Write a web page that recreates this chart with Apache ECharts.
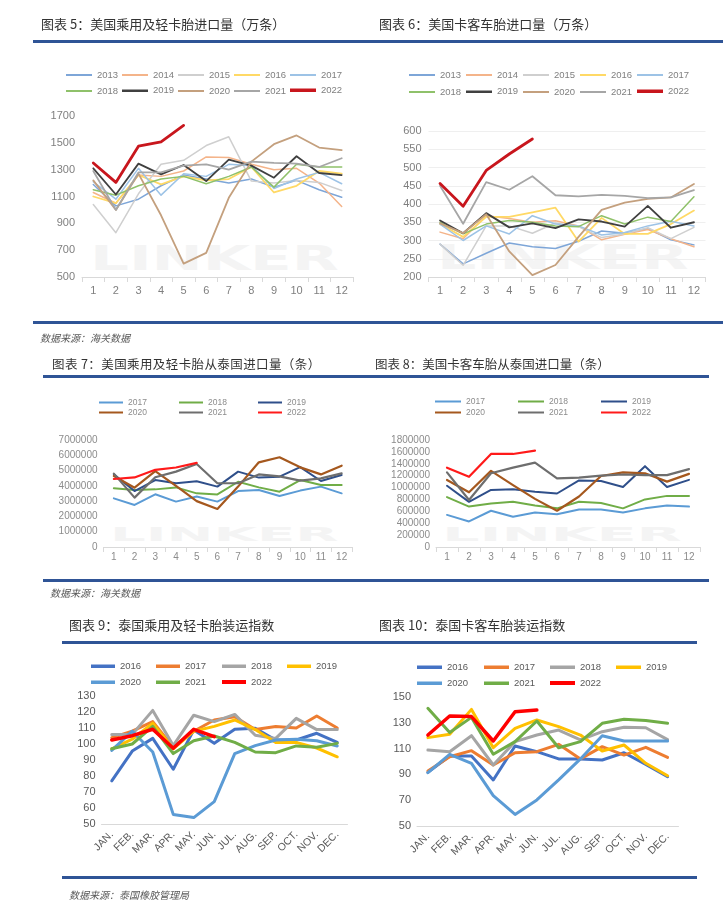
<!DOCTYPE html>
<html><head><meta charset="utf-8">
<script src="https://cdn.jsdelivr.net/npm/echarts@6/dist/echarts.min.js"></script>
<style>
html,body{margin:0;padding:0;background:#fff;}
body{width:723px;height:908px;position:relative;overflow:hidden;font-family:"Noto Sans CJK SC",sans-serif;}
.layer{position:absolute;left:0;top:0;width:723px;height:908px;z-index:2;}
.t{position:absolute;color:#333;font-size:13px;line-height:13px;white-space:nowrap;z-index:3;}
.rule{position:absolute;background:#2f5496;z-index:3;}
.src{position:absolute;color:#595959;font-size:10px;line-height:10px;font-style:italic;white-space:nowrap;z-index:3;}
.wm{position:absolute;color:#f4f4f4;font-weight:bold;font-family:"DejaVu Sans",sans-serif;white-space:nowrap;transform-origin:0 0;z-index:1;}
</style>
</head>
<body>
<div class="t" style="left:41px;top:17px;">图表 5：美国乘用及轻卡胎进口量（万条）</div>
<div class="t" style="left:379px;top:17px;">图表 6：美国卡客车胎进口量（万条）</div>
<div class="rule" style="left:33px;top:40px;width:690px;height:3px;"></div>
<div class="rule" style="left:33px;top:321px;width:690px;height:2.5px;"></div>
<div class="src" style="left:40px;top:333px;">数据来源：海关数据</div>

<div class="t" style="left:52px;top:357px;font-size:12.5px;letter-spacing:0.4px;">图表 7：美国乘用及轻卡胎从泰国进口量（条）</div>
<div class="t" style="left:375px;top:357px;font-size:12.5px;">图表 8：美国卡客车胎从泰国进口量（条）</div>
<div class="rule" style="left:43px;top:375px;width:666px;height:2.5px;"></div>
<div class="rule" style="left:43px;top:579px;width:666px;height:2.5px;"></div>
<div class="src" style="left:50px;top:588px;">数据来源：海关数据</div>

<div class="t" style="left:69px;top:618px;">图表 9：泰国乘用及轻卡胎装运指数</div>
<div class="t" style="left:379px;top:618px;">图表 10：泰国卡客车胎装运指数</div>
<div class="rule" style="left:62px;top:640.5px;width:635px;height:3px;"></div>
<div class="rule" style="left:62px;top:875.5px;width:635px;height:3px;"></div>
<div class="src" style="left:69px;top:890px;">数据来源：泰国橡胶管理局</div>

<div class="wm" style="left:90px;top:242px;font-size:33px;line-height:33px;transform:scale(1.85,1);">LINKER</div>
<div class="wm" style="left:437px;top:241px;font-size:33px;line-height:33px;transform:scale(1.87,1);">LINKER</div>
<div class="wm" style="left:110px;top:525px;font-size:19px;line-height:19px;transform:scale(2.95,1);">LINKER</div>
<div class="wm" style="left:442px;top:525px;font-size:19px;line-height:19px;transform:scale(3.1,1);">LINKER</div>

<div id="c5" class="layer"></div>
<div id="c6" class="layer"></div>
<div id="c7" class="layer"></div>
<div id="c8" class="layer"></div>
<div id="c9" class="layer"></div>
<div id="c10" class="layer"></div>

<script>
// ---------- categories ----------
const monthNums = ['1','2','3','4','5','6','7','8','9','10','11','12'];
const monthAbbr = ['JAN.','FEB.','MAR.','APR.','MAY.','JUN.','JUL.','AUG.','SEP.','OCT.','NOV.','DEC.'];

// ---------- Chart 5: US passenger & light truck tire imports (10k) ----------
const c5Years = ['2013','2014','2015','2016','2017','2018','2019','2020','2021','2022'];
const c5_2013 = [1190,1030,1080,1180,1260,1230,1200,1230,1170,1220,1150,1095];
const c5_2014 = [1130,1050,1260,1250,1290,1395,1390,1340,1300,1310,1200,1025];
const c5_2015 = [1040,830,1120,1340,1370,1480,1545,1215,1200,1220,1205,1145];
const c5_2016 = [1100,1050,1260,1190,1250,1220,1230,1320,1130,1180,1290,1270];
const c5_2017 = [1210,1080,1310,1110,1270,1250,1340,1330,1160,1230,1280,1195];
const c5_2018 = [1150,1110,1180,1230,1250,1195,1250,1320,1170,1340,1320,1320];
const c5_2019 = [1310,1115,1345,1265,1335,1215,1375,1330,1240,1400,1275,1260];
const c5_2020 = [1220,1000,1270,960,600,680,1090,1360,1490,1555,1465,1445];
const c5_2021 = [1290,1000,1280,1280,1330,1340,1300,1360,1350,1345,1320,1385];
const c5_2022 = [1350,1205,1475,1508,1630];

// ---------- Chart 6: US truck & bus tire imports (10k) ----------
const c6Years = ['2013','2014','2015','2016','2017','2018','2019','2020','2021','2022'];
const c6_2013 = [290,236,265,293,283,278,298,326,320,333,302,288];
const c6_2014 = [323,305,368,360,350,354,340,302,317,330,305,283];
const c6_2015 = [290,232,340,340,320,348,338,308,318,335,305,336];
const c6_2016 = [345,310,365,365,377,390,297,362,318,318,345,382];
const c6_2017 = [345,300,340,318,368,345,340,315,322,340,353,340];
const c6_2018 = [350,318,345,355,350,340,338,368,345,364,352,420];
const c6_2019 = [355,320,375,336,347,334,358,352,338,395,335,350];
const c6_2020 = [347,320,372,270,205,233,310,384,404,414,418,455];
const c6_2021 = [450,346,460,439,476,424,421,425,422,416,418,438];
const c6_2022 = [456,394,492,537,578];

// ---------- Chart 7: US PCR/LT imports from Thailand (units) ----------
const c7Years = ['2017','2018','2019','2020','2021','2022'];
const c7_2017 = [3180000,2750000,3450000,2970000,3300000,2970000,3660000,3730000,3340000,3690000,3950000,3510000];
const c7_2018 = [3840000,3730000,3770000,3900000,3510000,3440000,4270000,3900000,3620000,4380000,4050000,4050000];
const c7_2019 = [4750000,3660000,4380000,4170000,4300000,3950000,4930000,4540000,4600000,5230000,4320000,4710000];
const c7_2020 = [4650000,3880000,4970000,4000000,3000000,2490000,3950000,5540000,5870000,5210000,4750000,5320000];
const c7_2021 = [4800000,3230000,4560000,4930000,5430000,4170000,4170000,4750000,4620000,4340000,4490000,4820000];
const c7_2022 = [4450000,4550000,5050000,5200000,5500000];

// ---------- Chart 8: US TBR imports from Thailand (units) ----------
const c8Years = ['2017','2018','2019','2020','2021','2022'];
const c8_2017 = [540000,430000,610000,510000,580000,550000,630000,630000,580000,650000,700000,680000];
const c8_2018 = [840000,680000,730000,760000,700000,650000,760000,740000,650000,800000,860000,860000];
const c8_2019 = [1030000,760000,960000,970000,930000,900000,1120000,1110000,1010000,1360000,1010000,1130000];
const c8_2020 = [1127000,920000,1280000,1040000,810000,610000,850000,1195000,1256000,1240000,1100000,1230000];
const c8_2021 = [1256000,790000,1240000,1335000,1420000,1155000,1166000,1200000,1220000,1210000,1210000,1310000];
const c8_2022 = [1335000,1180000,1565000,1565000,1620000];

// ---------- Chart 9: Thailand PCR/LT shipment index ----------
const c9Years = ['2016','2017','2018','2019','2020','2021','2022'];
const c9_2016 = [77,95.6,103.5,84.2,108.8,100.4,109.2,109.8,102.5,102.5,106.7,101];
const c9_2017 = [104,108,114,98,108,115,117,109,111,110,117.5,110];
const c9_2018 = [106,106,121,99,118,114,118.5,105.5,103.5,116,109,109];
const c9_2019 = [97,103,113,97,108,111,115,109,101,101,97.5,92];
const c9_2020 = [96,108,95,56,54,64,94,99,102.5,103,102,98.8];
const c9_2021 = [97,100,111,94,102,105,101,95,94.6,98.8,98,100.4];
const c9_2022 = [102.5,105.2,109.2,97.3,109.2,104.6];

// ---------- Chart 10: Thailand TBR shipment index ----------
const c10Years = ['2016','2017','2018','2019','2020','2021','2022'];
const c10_2016 = [91.6,104.3,104.3,85.7,112,107.6,102,102,101.2,106.8,97.8,88.2];
const c10_2017 = [92.6,103.7,108.4,97.3,106.8,107.6,113.3,102,111.5,105,111,103.2];
const c10_2018 = [108.9,107.6,120,97.3,115.4,120.5,124.4,116.7,123.1,126.5,126.2,117];
const c10_2019 = [118.5,121.1,140.4,110.7,125.7,132.2,127,120.5,108.1,112.8,98.6,89];
const c10_2020 = [91.3,105.6,98.6,73.5,59,70.2,85.7,102,120,115.9,115.9,115.9];
const c10_2021 = [141.2,122.4,134.2,105.6,115.4,131.4,110.7,115.4,129.6,132.7,131.7,129.6];
const c10_2022 = [120.5,135.3,134.8,115.9,138.6,139.9];

// ---------- helpers ----------
const NUM_FONT = 'Liberation Sans';
function lineSeries(name, data, color, width) {
  return {
    name: name, type: 'line', data: data, symbol: 'none', color: color,
    lineStyle: { color: color, width: width, join: 'round', cap: 'round' },
    itemStyle: { color: color }, emphasis: { disabled: true }, silent: true
  };
}
function legendsFor(names, heights, xs, ys, perRow, iconW, fontSize, textColor) {
  return names.map(function (n, i) {
    return {
      data: [n], left: xs[i % perRow], top: ys[Math.floor(i / perRow)] - heights[i] / 2,
      icon: 'rect', itemWidth: iconW, itemHeight: heights[i], itemGap: 0, padding: 0,
      itemStyle: { borderWidth: 0 }, selectedMode: false,
      textStyle: { fontSize: fontSize, color: textColor, fontFamily: NUM_FONT }
    };
  });
}
function makeChart(id, cfg) {
  const chart = echarts.init(document.getElementById(id), null, { width: 723, height: 908 });
  const series = cfg.values.map(function (v, i) {
    return lineSeries(cfg.years[i], v, cfg.colors[i], cfg.widths[i]);
  });
  chart.setOption({
    animation: false,
    grid: cfg.grid,
    legend: legendsFor(cfg.years, cfg.iconH, cfg.legX, cfg.legY, cfg.perRow, cfg.iconW, cfg.legFont, cfg.legColor),
    xAxis: {
      type: 'category', data: cfg.cats, boundaryGap: true,
      axisLine: { show: true, lineStyle: { color: '#d9d9d9', width: 1 } },
      axisTick: { show: cfg.ticks, length: 5, lineStyle: { color: '#d9d9d9' } },
      axisLabel: Object.assign({ fontSize: cfg.xFont, color: cfg.xColor, fontFamily: NUM_FONT, margin: cfg.xMargin, interval: 0 }, cfg.xLabelExtra || {}),
      splitLine: { show: false }
    },
    yAxis: {
      type: 'value', min: cfg.yMin, max: cfg.yMax, interval: cfg.yInt,
      axisLine: { show: false }, axisTick: { show: false },
      axisLabel: { fontSize: cfg.yFont, color: cfg.yColor, fontFamily: NUM_FONT, margin: cfg.yMargin, formatter: function (v) { return String(v); } },
      splitLine: { show: cfg.split, lineStyle: { color: '#efefef', width: 1 } }
    },
    series: series
  });
}

// palettes
const palA = ['#7ea6d8','#f4b48a','#cfcfcf','#ffd966','#9dc3e6','#8fc16a','#404040','#c4a07e','#a6a6a6','#c8161d'];
const widA = [1.5,1.5,1.5,1.8,1.5,1.5,1.8,1.8,1.8,2.8];
const palB = ['#5b9bd5','#70ad47','#2f4f8a','#a5581e','#6e6e6e','#ff1a1a'];
const widB = [2,2,2,2.2,2.2,2.2];
const palC = ['#4472c4','#ed7d31','#a5a5a5','#ffc000','#5b9bd5','#70ad47','#ff0000'];
const widC = [3,3,3,3,3,3,3.5];

makeChart('c5', {
  years: c5Years, cats: monthNums,
  values: [c5_2013,c5_2014,c5_2015,c5_2016,c5_2017,c5_2018,c5_2019,c5_2020,c5_2021,c5_2022],
  colors: palA, widths: widA,
  grid: { left: 82, right: 370, top: 116, height: 161 },
  iconH: [2,2,2,2,2,2,2.5,2,2,3.5], iconW: 26, legX: [66,122,178,234,290], legY: [71,87], perRow: 5,
  legFont: 9.5, legColor: '#7f7f7f',
  ticks: true, xFont: 11, xColor: '#7f7f7f', xMargin: 8,
  yMin: 500, yMax: 1700, yInt: 200, yFont: 11, yColor: '#7f7f7f', yMargin: 7, split: false
});
makeChart('c6', {
  years: c6Years, cats: monthNums,
  values: [c6_2013,c6_2014,c6_2015,c6_2016,c6_2017,c6_2018,c6_2019,c6_2020,c6_2021,c6_2022],
  colors: palA, widths: widA,
  grid: { left: 428.5, right: 17.5, top: 131, height: 146 },
  iconH: [2,2,2,2,2,2,2.5,2,2,3.5], iconW: 26, legX: [409,466,523,580,637], legY: [71,88], perRow: 5,
  legFont: 9.5, legColor: '#7f7f7f',
  ticks: true, xFont: 11, xColor: '#7f7f7f', xMargin: 8,
  yMin: 200, yMax: 600, yInt: 50, yFont: 11, yColor: '#7f7f7f', yMargin: 7, split: true
});
makeChart('c7', {
  years: c7Years, cats: monthNums,
  values: [c7_2017,c7_2018,c7_2019,c7_2020,c7_2021,c7_2022],
  colors: palB, widths: widB,
  grid: { left: 103.5, right: 371, top: 440, height: 107 },
  iconH: [2,2,2,2,2,2], iconW: 24, legX: [99,179,258], legY: [399,409], perRow: 3,
  legFont: 8.5, legColor: '#8c8c8c',
  ticks: true, xFont: 10, xColor: '#8c8c8c', xMargin: 5,
  yMin: 0, yMax: 7000000, yInt: 1000000, yFont: 10, yColor: '#8c8c8c', yMargin: 6, split: false
});
makeChart('c8', {
  years: c8Years, cats: monthNums,
  values: [c8_2017,c8_2018,c8_2019,c8_2020,c8_2021,c8_2022],
  colors: palB, widths: widB,
  grid: { left: 436, right: 23, top: 440, height: 107 },
  iconH: [2,2,2,2,2,2], iconW: 26, legX: [435,518,601], legY: [398,409], perRow: 3,
  legFont: 8.5, legColor: '#8c8c8c',
  ticks: true, xFont: 10, xColor: '#8c8c8c', xMargin: 5,
  yMin: 0, yMax: 1800000, yInt: 200000, yFont: 10, yColor: '#8c8c8c', yMargin: 6, split: false
});
makeChart('c9', {
  years: c9Years, cats: monthAbbr,
  values: [c9_2016,c9_2017,c9_2018,c9_2019,c9_2020,c9_2021,c9_2022],
  colors: palC, widths: widC,
  grid: { left: 101.5, right: 375.5, top: 696, height: 128 },
  iconH: [3.5,3.5,3.5,3.5,3.5,3.5,4], iconW: 24, legX: [91,156,222,287], legY: [663,679], perRow: 4,
  legFont: 9.5, legColor: '#595959',
  ticks: false, xFont: 10.5, xColor: '#595959', xMargin: 9, xLabelExtra: { rotate: 45 },
  yMin: 50, yMax: 130, yInt: 10, yFont: 11, yColor: '#595959', yMargin: 6, split: false
});
makeChart('c10', {
  years: c10Years, cats: monthAbbr,
  values: [c10_2016,c10_2017,c10_2018,c10_2019,c10_2020,c10_2021,c10_2022],
  colors: palC, widths: widC,
  grid: { left: 417, right: 44.5, top: 697, height: 129 },
  iconH: [3.5,3.5,3.5,3.5,3.5,3.5,4], iconW: 25, legX: [417,484,550,616], legY: [664,680], perRow: 4,
  legFont: 9.5, legColor: '#595959',
  ticks: false, xFont: 10.5, xColor: '#595959', xMargin: 9, xLabelExtra: { rotate: 45 },
  yMin: 50, yMax: 150, yInt: 20, yFont: 11, yColor: '#595959', yMargin: 6, split: false
});
</script>
</body></html>
